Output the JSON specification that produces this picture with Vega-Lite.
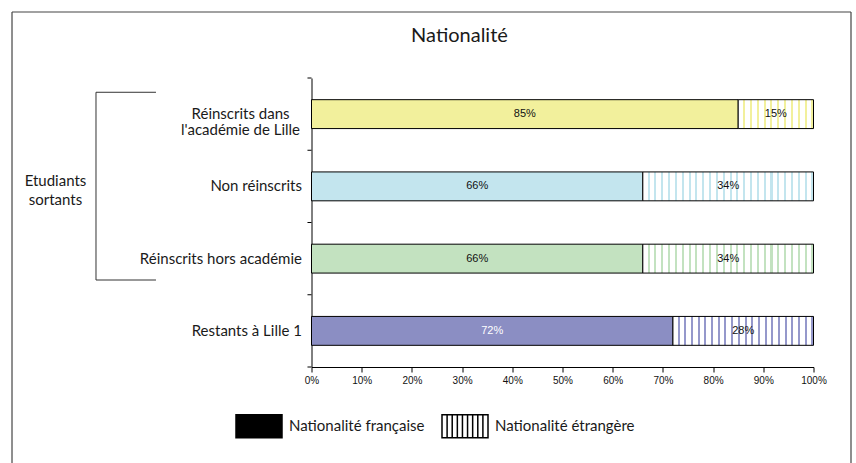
{
  "$schema": "https://vega.github.io/schema/vega-lite/v6.json",
  "width": 502,
  "height": 289,
  "autosize": {"type": "none"},
  "padding": {"left": 311.5, "top": 78, "right": 42.5, "bottom": 96},
  "background": "white",
  "data": {"values": [
    {"cat": "Réinscrits dans l'académie de Lille", "nat": "Nationalité française", "v": 85},
    {"cat": "Réinscrits dans l'académie de Lille", "nat": "Nationalité étrangère", "v": 15},
    {"cat": "Non réinscrits", "nat": "Nationalité française", "v": 66},
    {"cat": "Non réinscrits", "nat": "Nationalité étrangère", "v": 34},
    {"cat": "Réinscrits hors académie", "nat": "Nationalité française", "v": 66},
    {"cat": "Réinscrits hors académie", "nat": "Nationalité étrangère", "v": 34},
    {"cat": "Restants à Lille 1", "nat": "Nationalité française", "v": 72},
    {"cat": "Restants à Lille 1", "nat": "Nationalité étrangère", "v": 28}
  ]},
  "layer": [
    {
      "transform": [
        {"stack": "v", "groupby": ["cat"], "sort": [{"field": "nat", "order": "ascending"}], "as": ["x0", "x1"]},
        {"calculate": "(datum.x0 + datum.x1) / 2", "as": "mid"},
        {"calculate": "datum.v + '%'", "as": "lab"}
      ],
      "layer": [
        {
          "transform": [{"filter": "datum.nat === 'Nationalité française'"}],
          "mark": {"type": "bar", "stroke": "#000", "strokeWidth": 1},
          "encoding": {
            "x": {"field": "x0", "type": "quantitative", "title": null,
              "scale": {"domain": [0, 100], "nice": false, "zero": false}},
            "x2": {"field": "x1"},
            "y": {"field": "cat", "type": "nominal", "sort": null, "title": null,
              "scale": {"domain": ["Réinscrits dans l'académie de Lille", "Non réinscrits", "Réinscrits hors académie", "Restants à Lille 1"], "paddingInner": 0.6, "paddingOuter": 0.3}},
            "fill": {"field": "cat", "type": "nominal",
              "scale": {"domain": ["Réinscrits dans l'académie de Lille", "Non réinscrits", "Réinscrits hors académie", "Restants à Lille 1"], "range": ["#F2F09C", "#C3E5EE", "#C3E2C0", "#8B8EC3"]},
              "legend": null}
          }
        },
        {
          "transform": [{"filter": "datum.nat !== 'Nationalité française'"}],
          "mark": {"type": "bar", "stroke": "#000", "strokeWidth": 1},
          "encoding": {
            "x": {"field": "x0", "type": "quantitative", "title": null},
            "x2": {"field": "x1"},
            "y": {"field": "cat", "type": "nominal", "sort": null, "title": null},
            "fill": {
              "condition": [
                {"test": "datum.cat === 'Non réinscrits'", "value": {"gradient": "linear", "stops": [
                  {"offset":0,"color":"#fff"},
                  {"offset":0.028,"color":"#fff"},{"offset":0.028,"color":"#C3E5EE"},{"offset":0.04,"color":"#C3E5EE"},{"offset":0.04,"color":"#fff"},
                  {"offset":0.068,"color":"#fff"},{"offset":0.068,"color":"#C3E5EE"},{"offset":0.08,"color":"#C3E5EE"},{"offset":0.08,"color":"#fff"},
                  {"offset":0.108,"color":"#fff"},{"offset":0.108,"color":"#C3E5EE"},{"offset":0.12,"color":"#C3E5EE"},{"offset":0.12,"color":"#fff"},
                  {"offset":0.148,"color":"#fff"},{"offset":0.148,"color":"#C3E5EE"},{"offset":0.16,"color":"#C3E5EE"},{"offset":0.16,"color":"#fff"},
                  {"offset":0.188,"color":"#fff"},{"offset":0.188,"color":"#C3E5EE"},{"offset":0.2,"color":"#C3E5EE"},{"offset":0.2,"color":"#fff"},
                  {"offset":0.228,"color":"#fff"},{"offset":0.228,"color":"#C3E5EE"},{"offset":0.24,"color":"#C3E5EE"},{"offset":0.24,"color":"#fff"},
                  {"offset":0.268,"color":"#fff"},{"offset":0.268,"color":"#C3E5EE"},{"offset":0.28,"color":"#C3E5EE"},{"offset":0.28,"color":"#fff"},
                  {"offset":0.308,"color":"#fff"},{"offset":0.308,"color":"#C3E5EE"},{"offset":0.32,"color":"#C3E5EE"},{"offset":0.32,"color":"#fff"},
                  {"offset":0.348,"color":"#fff"},{"offset":0.348,"color":"#C3E5EE"},{"offset":0.36,"color":"#C3E5EE"},{"offset":0.36,"color":"#fff"},
                  {"offset":0.388,"color":"#fff"},{"offset":0.388,"color":"#C3E5EE"},{"offset":0.4,"color":"#C3E5EE"},{"offset":0.4,"color":"#fff"},
                  {"offset":0.428,"color":"#fff"},{"offset":0.428,"color":"#C3E5EE"},{"offset":0.44,"color":"#C3E5EE"},{"offset":0.44,"color":"#fff"},
                  {"offset":0.468,"color":"#fff"},{"offset":0.468,"color":"#C3E5EE"},{"offset":0.48,"color":"#C3E5EE"},{"offset":0.48,"color":"#fff"},
                  {"offset":0.508,"color":"#fff"},{"offset":0.508,"color":"#C3E5EE"},{"offset":0.52,"color":"#C3E5EE"},{"offset":0.52,"color":"#fff"},
                  {"offset":0.548,"color":"#fff"},{"offset":0.548,"color":"#C3E5EE"},{"offset":0.56,"color":"#C3E5EE"},{"offset":0.56,"color":"#fff"},
                  {"offset":0.588,"color":"#fff"},{"offset":0.588,"color":"#C3E5EE"},{"offset":0.6,"color":"#C3E5EE"},{"offset":0.6,"color":"#fff"},
                  {"offset":0.628,"color":"#fff"},{"offset":0.628,"color":"#C3E5EE"},{"offset":0.64,"color":"#C3E5EE"},{"offset":0.64,"color":"#fff"},
                  {"offset":0.668,"color":"#fff"},{"offset":0.668,"color":"#C3E5EE"},{"offset":0.68,"color":"#C3E5EE"},{"offset":0.68,"color":"#fff"},
                  {"offset":0.708,"color":"#fff"},{"offset":0.708,"color":"#C3E5EE"},{"offset":0.72,"color":"#C3E5EE"},{"offset":0.72,"color":"#fff"},
                  {"offset":0.748,"color":"#fff"},{"offset":0.748,"color":"#C3E5EE"},{"offset":0.76,"color":"#C3E5EE"},{"offset":0.76,"color":"#fff"},
                  {"offset":0.788,"color":"#fff"},{"offset":0.788,"color":"#C3E5EE"},{"offset":0.8,"color":"#C3E5EE"},{"offset":0.8,"color":"#fff"},
                  {"offset":0.828,"color":"#fff"},{"offset":0.828,"color":"#C3E5EE"},{"offset":0.84,"color":"#C3E5EE"},{"offset":0.84,"color":"#fff"},
                  {"offset":0.868,"color":"#fff"},{"offset":0.868,"color":"#C3E5EE"},{"offset":0.88,"color":"#C3E5EE"},{"offset":0.88,"color":"#fff"},
                  {"offset":0.908,"color":"#fff"},{"offset":0.908,"color":"#C3E5EE"},{"offset":0.92,"color":"#C3E5EE"},{"offset":0.92,"color":"#fff"},
                  {"offset":0.948,"color":"#fff"},{"offset":0.948,"color":"#C3E5EE"},{"offset":0.96,"color":"#C3E5EE"},{"offset":0.96,"color":"#fff"},
                  {"offset":0.988,"color":"#fff"},{"offset":0.988,"color":"#C3E5EE"},{"offset":1,"color":"#C3E5EE"}]}},
                {"test": "datum.cat === 'Réinscrits hors académie'", "value": {"gradient": "linear", "stops": [
                  {"offset":0,"color":"#fff"},
                  {"offset":0.028,"color":"#fff"},{"offset":0.028,"color":"#C3E2C0"},{"offset":0.04,"color":"#C3E2C0"},{"offset":0.04,"color":"#fff"},
                  {"offset":0.068,"color":"#fff"},{"offset":0.068,"color":"#C3E2C0"},{"offset":0.08,"color":"#C3E2C0"},{"offset":0.08,"color":"#fff"},
                  {"offset":0.108,"color":"#fff"},{"offset":0.108,"color":"#C3E2C0"},{"offset":0.12,"color":"#C3E2C0"},{"offset":0.12,"color":"#fff"},
                  {"offset":0.148,"color":"#fff"},{"offset":0.148,"color":"#C3E2C0"},{"offset":0.16,"color":"#C3E2C0"},{"offset":0.16,"color":"#fff"},
                  {"offset":0.188,"color":"#fff"},{"offset":0.188,"color":"#C3E2C0"},{"offset":0.2,"color":"#C3E2C0"},{"offset":0.2,"color":"#fff"},
                  {"offset":0.228,"color":"#fff"},{"offset":0.228,"color":"#C3E2C0"},{"offset":0.24,"color":"#C3E2C0"},{"offset":0.24,"color":"#fff"},
                  {"offset":0.268,"color":"#fff"},{"offset":0.268,"color":"#C3E2C0"},{"offset":0.28,"color":"#C3E2C0"},{"offset":0.28,"color":"#fff"},
                  {"offset":0.308,"color":"#fff"},{"offset":0.308,"color":"#C3E2C0"},{"offset":0.32,"color":"#C3E2C0"},{"offset":0.32,"color":"#fff"},
                  {"offset":0.348,"color":"#fff"},{"offset":0.348,"color":"#C3E2C0"},{"offset":0.36,"color":"#C3E2C0"},{"offset":0.36,"color":"#fff"},
                  {"offset":0.388,"color":"#fff"},{"offset":0.388,"color":"#C3E2C0"},{"offset":0.4,"color":"#C3E2C0"},{"offset":0.4,"color":"#fff"},
                  {"offset":0.428,"color":"#fff"},{"offset":0.428,"color":"#C3E2C0"},{"offset":0.44,"color":"#C3E2C0"},{"offset":0.44,"color":"#fff"},
                  {"offset":0.468,"color":"#fff"},{"offset":0.468,"color":"#C3E2C0"},{"offset":0.48,"color":"#C3E2C0"},{"offset":0.48,"color":"#fff"},
                  {"offset":0.508,"color":"#fff"},{"offset":0.508,"color":"#C3E2C0"},{"offset":0.52,"color":"#C3E2C0"},{"offset":0.52,"color":"#fff"},
                  {"offset":0.548,"color":"#fff"},{"offset":0.548,"color":"#C3E2C0"},{"offset":0.56,"color":"#C3E2C0"},{"offset":0.56,"color":"#fff"},
                  {"offset":0.588,"color":"#fff"},{"offset":0.588,"color":"#C3E2C0"},{"offset":0.6,"color":"#C3E2C0"},{"offset":0.6,"color":"#fff"},
                  {"offset":0.628,"color":"#fff"},{"offset":0.628,"color":"#C3E2C0"},{"offset":0.64,"color":"#C3E2C0"},{"offset":0.64,"color":"#fff"},
                  {"offset":0.668,"color":"#fff"},{"offset":0.668,"color":"#C3E2C0"},{"offset":0.68,"color":"#C3E2C0"},{"offset":0.68,"color":"#fff"},
                  {"offset":0.708,"color":"#fff"},{"offset":0.708,"color":"#C3E2C0"},{"offset":0.72,"color":"#C3E2C0"},{"offset":0.72,"color":"#fff"},
                  {"offset":0.748,"color":"#fff"},{"offset":0.748,"color":"#C3E2C0"},{"offset":0.76,"color":"#C3E2C0"},{"offset":0.76,"color":"#fff"},
                  {"offset":0.788,"color":"#fff"},{"offset":0.788,"color":"#C3E2C0"},{"offset":0.8,"color":"#C3E2C0"},{"offset":0.8,"color":"#fff"},
                  {"offset":0.828,"color":"#fff"},{"offset":0.828,"color":"#C3E2C0"},{"offset":0.84,"color":"#C3E2C0"},{"offset":0.84,"color":"#fff"},
                  {"offset":0.868,"color":"#fff"},{"offset":0.868,"color":"#C3E2C0"},{"offset":0.88,"color":"#C3E2C0"},{"offset":0.88,"color":"#fff"},
                  {"offset":0.908,"color":"#fff"},{"offset":0.908,"color":"#C3E2C0"},{"offset":0.92,"color":"#C3E2C0"},{"offset":0.92,"color":"#fff"},
                  {"offset":0.948,"color":"#fff"},{"offset":0.948,"color":"#C3E2C0"},{"offset":0.96,"color":"#C3E2C0"},{"offset":0.96,"color":"#fff"},
                  {"offset":0.988,"color":"#fff"},{"offset":0.988,"color":"#C3E2C0"},{"offset":1,"color":"#C3E2C0"}]}},
                {"test": "datum.cat === 'Restants à Lille 1'", "value": {"gradient": "linear", "stops": [
                  {"offset":0,"color":"#fff"},
                  {"offset":0.0333,"color":"#fff"},{"offset":0.0333,"color":"#9598CB"},{"offset":0.0476,"color":"#9598CB"},{"offset":0.0476,"color":"#fff"},
                  {"offset":0.081,"color":"#fff"},{"offset":0.081,"color":"#9598CB"},{"offset":0.0952,"color":"#9598CB"},{"offset":0.0952,"color":"#fff"},
                  {"offset":0.1286,"color":"#fff"},{"offset":0.1286,"color":"#9598CB"},{"offset":0.1429,"color":"#9598CB"},{"offset":0.1429,"color":"#fff"},
                  {"offset":0.1762,"color":"#fff"},{"offset":0.1762,"color":"#9598CB"},{"offset":0.1905,"color":"#9598CB"},{"offset":0.1905,"color":"#fff"},
                  {"offset":0.2238,"color":"#fff"},{"offset":0.2238,"color":"#9598CB"},{"offset":0.2381,"color":"#9598CB"},{"offset":0.2381,"color":"#fff"},
                  {"offset":0.2714,"color":"#fff"},{"offset":0.2714,"color":"#9598CB"},{"offset":0.2857,"color":"#9598CB"},{"offset":0.2857,"color":"#fff"},
                  {"offset":0.319,"color":"#fff"},{"offset":0.319,"color":"#9598CB"},{"offset":0.3333,"color":"#9598CB"},{"offset":0.3333,"color":"#fff"},
                  {"offset":0.3667,"color":"#fff"},{"offset":0.3667,"color":"#9598CB"},{"offset":0.381,"color":"#9598CB"},{"offset":0.381,"color":"#fff"},
                  {"offset":0.4143,"color":"#fff"},{"offset":0.4143,"color":"#9598CB"},{"offset":0.4286,"color":"#9598CB"},{"offset":0.4286,"color":"#fff"},
                  {"offset":0.4619,"color":"#fff"},{"offset":0.4619,"color":"#9598CB"},{"offset":0.4762,"color":"#9598CB"},{"offset":0.4762,"color":"#fff"},
                  {"offset":0.5095,"color":"#fff"},{"offset":0.5095,"color":"#9598CB"},{"offset":0.5238,"color":"#9598CB"},{"offset":0.5238,"color":"#fff"},
                  {"offset":0.5571,"color":"#fff"},{"offset":0.5571,"color":"#9598CB"},{"offset":0.5714,"color":"#9598CB"},{"offset":0.5714,"color":"#fff"},
                  {"offset":0.6048,"color":"#fff"},{"offset":0.6048,"color":"#9598CB"},{"offset":0.619,"color":"#9598CB"},{"offset":0.619,"color":"#fff"},
                  {"offset":0.6524,"color":"#fff"},{"offset":0.6524,"color":"#9598CB"},{"offset":0.6667,"color":"#9598CB"},{"offset":0.6667,"color":"#fff"},
                  {"offset":0.7,"color":"#fff"},{"offset":0.7,"color":"#9598CB"},{"offset":0.7143,"color":"#9598CB"},{"offset":0.7143,"color":"#fff"},
                  {"offset":0.7476,"color":"#fff"},{"offset":0.7476,"color":"#9598CB"},{"offset":0.7619,"color":"#9598CB"},{"offset":0.7619,"color":"#fff"},
                  {"offset":0.7952,"color":"#fff"},{"offset":0.7952,"color":"#9598CB"},{"offset":0.8095,"color":"#9598CB"},{"offset":0.8095,"color":"#fff"},
                  {"offset":0.8429,"color":"#fff"},{"offset":0.8429,"color":"#9598CB"},{"offset":0.8571,"color":"#9598CB"},{"offset":0.8571,"color":"#fff"},
                  {"offset":0.8905,"color":"#fff"},{"offset":0.8905,"color":"#9598CB"},{"offset":0.9048,"color":"#9598CB"},{"offset":0.9048,"color":"#fff"},
                  {"offset":0.9381,"color":"#fff"},{"offset":0.9381,"color":"#9598CB"},{"offset":0.9524,"color":"#9598CB"},{"offset":0.9524,"color":"#fff"},
                  {"offset":0.9857,"color":"#fff"},{"offset":0.9857,"color":"#9598CB"},{"offset":1,"color":"#9598CB"}]}}
              ],
              "value": {"gradient": "linear", "stops": [
                {"offset":0,"color":"#fff"},
                {"offset":0.0636,"color":"#fff"},{"offset":0.0636,"color":"#F2F09C"},{"offset":0.0909,"color":"#F2F09C"},{"offset":0.0909,"color":"#fff"},
                {"offset":0.1545,"color":"#fff"},{"offset":0.1545,"color":"#F2F09C"},{"offset":0.1818,"color":"#F2F09C"},{"offset":0.1818,"color":"#fff"},
                {"offset":0.2455,"color":"#fff"},{"offset":0.2455,"color":"#F2F09C"},{"offset":0.2727,"color":"#F2F09C"},{"offset":0.2727,"color":"#fff"},
                {"offset":0.3364,"color":"#fff"},{"offset":0.3364,"color":"#F2F09C"},{"offset":0.3636,"color":"#F2F09C"},{"offset":0.3636,"color":"#fff"},
                {"offset":0.4273,"color":"#fff"},{"offset":0.4273,"color":"#F2F09C"},{"offset":0.4545,"color":"#F2F09C"},{"offset":0.4545,"color":"#fff"},
                {"offset":0.5182,"color":"#fff"},{"offset":0.5182,"color":"#F2F09C"},{"offset":0.5455,"color":"#F2F09C"},{"offset":0.5455,"color":"#fff"},
                {"offset":0.6091,"color":"#fff"},{"offset":0.6091,"color":"#F2F09C"},{"offset":0.6364,"color":"#F2F09C"},{"offset":0.6364,"color":"#fff"},
                {"offset":0.7,"color":"#fff"},{"offset":0.7,"color":"#F2F09C"},{"offset":0.7273,"color":"#F2F09C"},{"offset":0.7273,"color":"#fff"},
                {"offset":0.7909,"color":"#fff"},{"offset":0.7909,"color":"#F2F09C"},{"offset":0.8182,"color":"#F2F09C"},{"offset":0.8182,"color":"#fff"},
                {"offset":0.8818,"color":"#fff"},{"offset":0.8818,"color":"#F2F09C"},{"offset":0.9091,"color":"#F2F09C"},{"offset":0.9091,"color":"#fff"},
                {"offset":0.9727,"color":"#fff"},{"offset":0.9727,"color":"#F2F09C"},{"offset":1,"color":"#F2F09C"}]}
            }
          }
        },
        {
          "mark": {"type": "text", "font": "Liberation Sans", "fontSize": 11, "align": "center", "baseline": "middle"},
          "encoding": {
            "x": {"field": "mid", "type": "quantitative", "title": null},
            "y": {"field": "cat", "type": "nominal", "sort": null, "title": null},
            "text": {"field": "lab"},
            "color": {"condition": {"test": "datum.cat === 'Restants à Lille 1' && datum.nat === 'Nationalité française'", "value": "#ffffff"}, "value": "#111111"}
          }
        },
        {
          "transform": [{"filter": "datum.nat === 'Nationalité française' && indexof(datum.cat, 'dans') < 0"}],
          "mark": {"type": "text", "font": "Lato", "fontSize": 15, "align": "right", "baseline": "middle", "color": "#1a1a1a"},
          "encoding": {
            "x": {"datum": -1.9, "type": "quantitative", "title": null},
            "y": {"field": "cat", "type": "nominal", "sort": null, "title": null},
            "text": {"field": "cat"}
          }
        },
        {
          "transform": [{"filter": "datum.nat === 'Nationalité française'"}],
          "mark": {"type": "rule", "color": "#000", "strokeWidth": 1},
          "encoding": {
            "x": {"datum": -0.8, "type": "quantitative", "title": null},
            "x2": {"datum": 0},
            "y": {"field": "cat", "type": "nominal", "sort": null, "title": null, "bandPosition": -0.75}
          }
        }
      ]
    },
    {
      "transform": [{"filter": "false"}],
      "mark": {"type": "point", "filled": true, "stroke": "#000", "strokeWidth": 1.5, "opacity": 1},
      "encoding": {
        "x": {"field": "v", "type": "quantitative", "title": null},
        "y": {"field": "cat", "type": "nominal", "sort": null, "title": null},
        "color": {"field": "nat", "type": "nominal",
          "scale": {"domain": ["Nationalité française", "Nationalité étrangère"], "range": ["#000000", "#ffffff"]},
          "legend": {"title": null, "orient": "none", "legendX": -76.5, "legendY": 324, "direction": "horizontal", "symbolSize": 2116, "symbolStrokeColor": "#000", "symbolStrokeWidth": 1.5, "labelFont": "Lato", "labelFontSize": 15, "labelColor": "#1a1a1a", "labelOffset": 6, "columnPadding": 14, "padding": 0, "labelLimit": 0}},
        "shape": {"field": "nat", "type": "nominal",
          "scale": {"domain": ["Nationalité française", "Nationalité étrangère"], "range": ["M-1,-0.5H1V0.5H-1Z", "M-1,-0.5H1V0.5H-1Z M-0.778,-0.5V0.5 M-0.556,-0.5V0.5 M-0.333,-0.5V0.5 M-0.111,-0.5V0.5 M0.111,-0.5V0.5 M0.333,-0.5V0.5 M0.556,-0.5V0.5 M0.778,-0.5V0.5"]},
          "legend": {"title": null, "orient": "none", "legendX": -76.5, "legendY": 324, "direction": "horizontal", "symbolSize": 2116, "symbolStrokeColor": "#000", "symbolStrokeWidth": 1.5, "labelFont": "Lato", "labelFontSize": 15, "labelColor": "#1a1a1a", "labelOffset": 6, "columnPadding": 14, "padding": 0, "labelLimit": 0}}
      }
    },
    {
      "data": {"values": [{}]},
      "layer": [
        {
          "mark": {"type": "rule", "color": "#444", "strokeWidth": 1.2},
          "encoding": {
            "x": {"datum": -59.66, "type": "quantitative", "title": null},
            "y": {"datum": "Réinscrits dans l'académie de Lille", "type": "nominal", "bandPosition": -3.034, "title": null},
            "y2": {"datum": "Restants à Lille 1", "bandPosition": 5.31}
          }
        },
        {
          "mark": {"type": "rule", "color": "#444", "strokeWidth": 1.2},
          "encoding": {
            "x": {"datum": 107.47, "type": "quantitative", "title": null},
            "y": {"datum": "Réinscrits dans l'académie de Lille", "type": "nominal", "bandPosition": -3.034, "title": null},
            "y2": {"datum": "Restants à Lille 1", "bandPosition": 5.31}
          }
        },
        {
          "mark": {"type": "rule", "color": "#444", "strokeWidth": 1.2},
          "encoding": {
            "x": {"datum": -59.66, "type": "quantitative", "title": null},
            "x2": {"datum": 107.47},
            "y": {"datum": "Réinscrits dans l'académie de Lille", "type": "nominal", "bandPosition": -3.034, "title": null}
          }
        },
        {
          "mark": {"type": "text", "font": "Lato", "fontSize": 20, "align": "center", "baseline": "alphabetic", "color": "#1a1a1a"},
          "encoding": {
            "x": {"datum": 29.48, "type": "quantitative", "title": null},
            "y": {"datum": "Réinscrits dans l'académie de Lille", "type": "nominal", "bandPosition": -1.996, "title": null},
            "text": {"value": "Nationalité"}
          }
        },
        {
          "mark": {"type": "text", "font": "Lato", "fontSize": 15, "align": "center", "baseline": "middle", "lineHeight": 16, "color": "#1a1a1a"},
          "encoding": {
            "x": {"datum": -14.14, "type": "quantitative", "title": null},
            "y": {"datum": "Réinscrits dans l'académie de Lille", "type": "nominal", "title": null},
            "text": {"value": ["Réinscrits dans", "l'académie de Lille"]}
          }
        },
        {
          "mark": {"type": "rule", "color": "#000", "strokeWidth": 1},
          "encoding": {
            "x": {"datum": -0.8, "type": "quantitative", "title": null},
            "x2": {"datum": 0},
            "y": {"datum": "Restants à Lille 1", "type": "nominal", "bandPosition": 1.75, "title": null}
          }
        },
        {
          "mark": {"type": "rule", "color": "#333", "strokeWidth": 1},
          "encoding": {
            "x": {"datum": -42.93, "type": "quantitative", "title": null},
            "y": {"datum": "Réinscrits dans l'académie de Lille", "type": "nominal", "bandPosition": -0.256, "title": null},
            "y2": {"datum": "Réinscrits hors académie", "bandPosition": 1.24}
          }
        },
        {
          "mark": {"type": "rule", "color": "#333", "strokeWidth": 1},
          "encoding": {
            "x": {"datum": -42.93, "type": "quantitative", "title": null},
            "x2": {"datum": -30.98},
            "y": {"datum": "Réinscrits dans l'académie de Lille", "type": "nominal", "bandPosition": -0.256, "title": null}
          }
        },
        {
          "mark": {"type": "rule", "color": "#333", "strokeWidth": 1},
          "encoding": {
            "x": {"datum": -42.93, "type": "quantitative", "title": null},
            "x2": {"datum": -30.98},
            "y": {"datum": "Réinscrits hors académie", "type": "nominal", "bandPosition": 1.24, "title": null}
          }
        },
        {
          "mark": {"type": "text", "font": "Lato", "fontSize": 15, "align": "center", "baseline": "middle", "lineHeight": 19, "color": "#1a1a1a"},
          "encoding": {
            "x": {"datum": -51, "type": "quantitative", "title": null},
            "y": {"datum": "Non réinscrits", "type": "nominal", "bandPosition": 0.3, "title": null},
            "text": {"value": ["Etudiants", "sortants"]}
          }
        }
      ]
    }
  ],
  "config": {
    "view": {"stroke": null},
    "axis": {"grid": false, "tickColor": "#000", "domainColor": "#000"},
    "axisX": {"tickCount": 10, "labelExpr": "datum.value + '%'", "tickSize": 5, "labelFont": "Liberation Sans", "labelFontSize": 10, "labelColor": "#111", "labelPadding": 3, "labelFlush": false, "labelOverlap": false},
    "axisY": {"labels": false, "ticks": false}
  }
}
